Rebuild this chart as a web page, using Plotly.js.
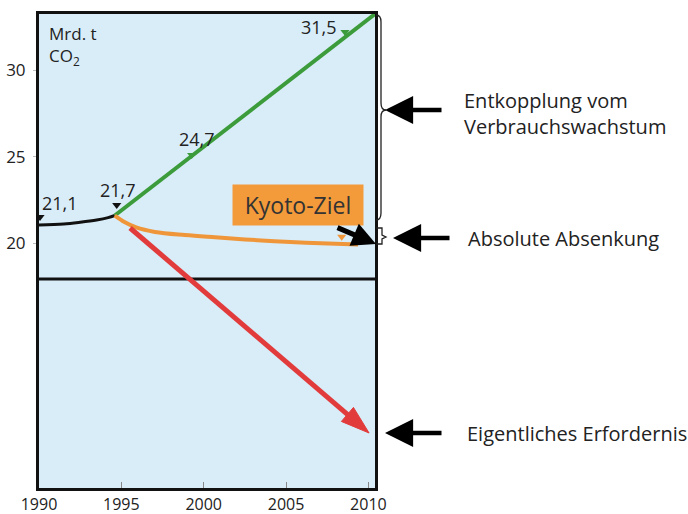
<!DOCTYPE html>
<html><head><meta charset="utf-8">
<script src="https://cdn.plot.ly/plotly-3.0.1.min.js"></script>
<style>html,body{margin:0;padding:0;background:#fff}</style>
</head><body><div id="chart" style="width:688px;height:514px"></div>
<script>
// ---- data ----
const baseYears = [1990.0, 1991.5, 1992.5, 1993.5, 1994.2, 1994.6];
const baseValues = [21.04, 21.1, 21.2, 21.33, 21.47, 21.59];
const growthYears = [1994.6, 2000, 2005, 2010, 2010.4];
const growthValues = [21.59, 25.58, 29.26, 32.95, 33.24];
const kyotoYears = [1994.6, 1995.22, 1995.9, 1997.04, 1998.86, 2000.69, 2002.51, 2004.3, 2006.2, 2008.0, 2009.37];
const kyotoValues = [21.59, 21.2, 20.9, 20.64, 20.46, 20.33, 20.21, 20.11, 20.02, 19.96, 19.92];
const requiredYears = [1995.53, 2010.04];
const requiredValues = [20.87, 9.02];
const breakYears = [1990.0, 2010.4];
const breakValues = [17.92, 17.92];
const blackMarkYears = [1990.06, 1994.72];
const blackMarkValues = [21.5, 22.2];
const blackMarkLabels = ['21,1', '21,7'];
const greenMarkYears = [1999.27, 2008.58];
const greenMarkValues = [25.09, 32.2];
const greenMarkLabels = ['24,7', '31,5'];
const kyotoMarkYears = [2008.38];
const kyotoMarkValues = [20.36];
const xTicks = [1990, 1995, 2000, 2005, 2010];
const yTicks = [20, 25, 30];
const unitLabel = 'Mrd. t<br>CO<sub>2</sub>';
const kyotoLabel = 'Kyoto-Ziel';
const sideLabels = ['Entkopplung vom<br>Verbrauchswachstum', 'Absolute Absenkung', 'Eigentliches Erfordernis'];

// ---- layout helpers (pixel -> paper) ----
const L = 39, R = 375, T = 14, B = 488;
const px = x => (x - L) / (R - L);
const py = y => (B - y) / (B - T);
const FONT = 'Open Sans, sans-serif';
const TXT = '#222';

const traces = [
  {x: breakYears, y: breakValues, mode: 'lines', line: {color: '#111', width: 3}},
  {x: baseYears, y: baseValues, mode: 'lines', line: {color: '#111', width: 3, shape: 'spline'}},
  {x: growthYears, y: growthValues, mode: 'lines', line: {color: '#3c9c3c', width: 4}},
  {x: kyotoYears, y: kyotoValues, mode: 'lines', line: {color: '#f0963a', width: 4, shape: 'spline', smoothing: 1}},
  {x: requiredYears, y: requiredValues, mode: 'lines+markers', line: {color: '#e23b3b', width: 5},
   marker: {symbol: ['circle', 'arrow'], size: [0, 30], color: '#e23b3b', opacity: 1,
            line: {width: 1, color: '#e23b3b'}, angleref: 'previous'}},
  {x: blackMarkYears, y: blackMarkValues, mode: 'markers', marker: {symbol: 'triangle-down', size: 8, color: '#111'}},
  {x: greenMarkYears, y: greenMarkValues, mode: 'markers', marker: {symbol: 'triangle-down', size: 8, color: '#3c9c3c'}},
  {x: kyotoMarkYears, y: kyotoMarkValues, mode: 'markers', marker: {symbol: 'triangle-down', size: 8, color: '#f0963a'}}
];

const shifts = [[20, 14], [1, 15], [5, 16], [-26, 5]];
const markYears = blackMarkYears.concat(greenMarkYears);
const markValues = blackMarkValues.concat(greenMarkValues);
const markLabels = blackMarkLabels.concat(greenMarkLabels);
const annotations = markLabels.map((t, i) => ({
  x: markYears[i], y: markValues[i], xref: 'x', yref: 'y', text: t, showarrow: false,
  xanchor: 'center', yanchor: 'middle',
  xshift: shifts[i][0], yshift: shifts[i][1], font: {family: FONT, size: 18, color: TXT}
}));

annotations.push({x: px(47), y: py(20), xref: 'paper', yref: 'paper', xanchor: 'left', yanchor: 'top',
  align: 'left', text: unitLabel, showarrow: false, font: {family: FONT, size: 17, color: TXT}});
annotations.push({x: px(298), y: py(205), xref: 'paper', yref: 'paper', xanchor: 'center', yanchor: 'middle',
  text: kyotoLabel, showarrow: false,
  bgcolor: '#f39a3b', width: 128, height: 38, borderpad: 1, font: {family: FONT, size: 23, color: '#333'}});
// Kyoto black arrow
annotations.push({x: px(376), y: py(244), xref: 'paper', yref: 'paper', text: '', showarrow: true,
  ax: -40, ay: -17, arrowcolor: '#000', arrowwidth: 5, arrowhead: 2, arrowsize: 0.95, standoff: 0});
// side arrows
const sideArrows = [[385, 443, 110], [393, 451, 238], [385, 443, 433]];
sideArrows.forEach(a => annotations.push({x: px(a[0]), y: py(a[2]), xref: 'paper', yref: 'paper', text: '',
  showarrow: true, ax: a[1] - a[0], ay: 0, arrowcolor: '#000', arrowwidth: 4.5, arrowhead: 2, arrowsize: 1.25, standoff: 0}));
const sideText = [[462, 114], [466, 238], [465, 433]];
sideLabels.forEach((t, i) => annotations.push({x: px(sideText[i][0]), y: py(sideText[i][1]), xref: 'paper', yref: 'paper',
  xanchor: 'left', yanchor: 'middle', align: 'left', text: t, showarrow: false,
  font: {family: FONT, size: 20, color: TXT}}));

// braces
function P(x, y) { return px(x).toFixed(5) + ',' + py(y).toFixed(5); }
const brace = 'M' + P(376, 15) + ' Q' + P(381, 15) + ' ' + P(381, 22) + ' L' + P(381, 103) +
  ' Q' + P(381, 110) + ' ' + P(386, 110) + ' Q' + P(381, 110) + ' ' + P(381, 117) +
  ' L' + P(381, 213) + ' Q' + P(381, 220) + ' ' + P(376, 220);
const smallBrace = 'M' + P(376, 228) + ' L' + P(382, 228) + ' L' + P(382, 235) + ' L' + P(386, 237) +
  ' L' + P(382, 239) + ' L' + P(382, 244) + ' L' + P(376, 244);
const shapes = [
  {type: 'path', xref: 'paper', yref: 'paper', path: brace, line: {color: '#222', width: 1.3}},
  {type: 'path', xref: 'paper', yref: 'paper', path: smallBrace, line: {color: '#222', width: 1.3}}
];

const layout = {
  width: 688, height: 514,
  margin: {l: L, r: 688 - R, t: T, b: 514 - B, pad: 0},
  paper_bgcolor: '#fff', plot_bgcolor: '#d9edf8',
  showlegend: false,
  xaxis: {range: [1990.0, 2010.4], tickvals: xTicks, ticktext: xTicks.map(String), ticks: 'inside', ticklen: 6,
    tickcolor: '#888', showgrid: false, zeroline: false, showline: true, mirror: true, linecolor: '#111', linewidth: 3,
    tickfont: {family: FONT, size: 16, color: TXT}, fixedrange: true},
  yaxis: {range: [5.84, 33.24], tickvals: yTicks, ticktext: yTicks.map(String), ticks: 'outside', ticklen: 3,
    tickcolor: '#bbb', showgrid: false, zeroline: false, showline: true, mirror: true, linecolor: '#111', linewidth: 3,
    ticklabelstandoff: 4, tickfont: {family: FONT, size: 17, color: TXT}, fixedrange: true},
  annotations: annotations,
  shapes: shapes
};
Plotly.newPlot('chart', traces, layout, {displayModeBar: false, staticPlot: true});
</script></body></html>
